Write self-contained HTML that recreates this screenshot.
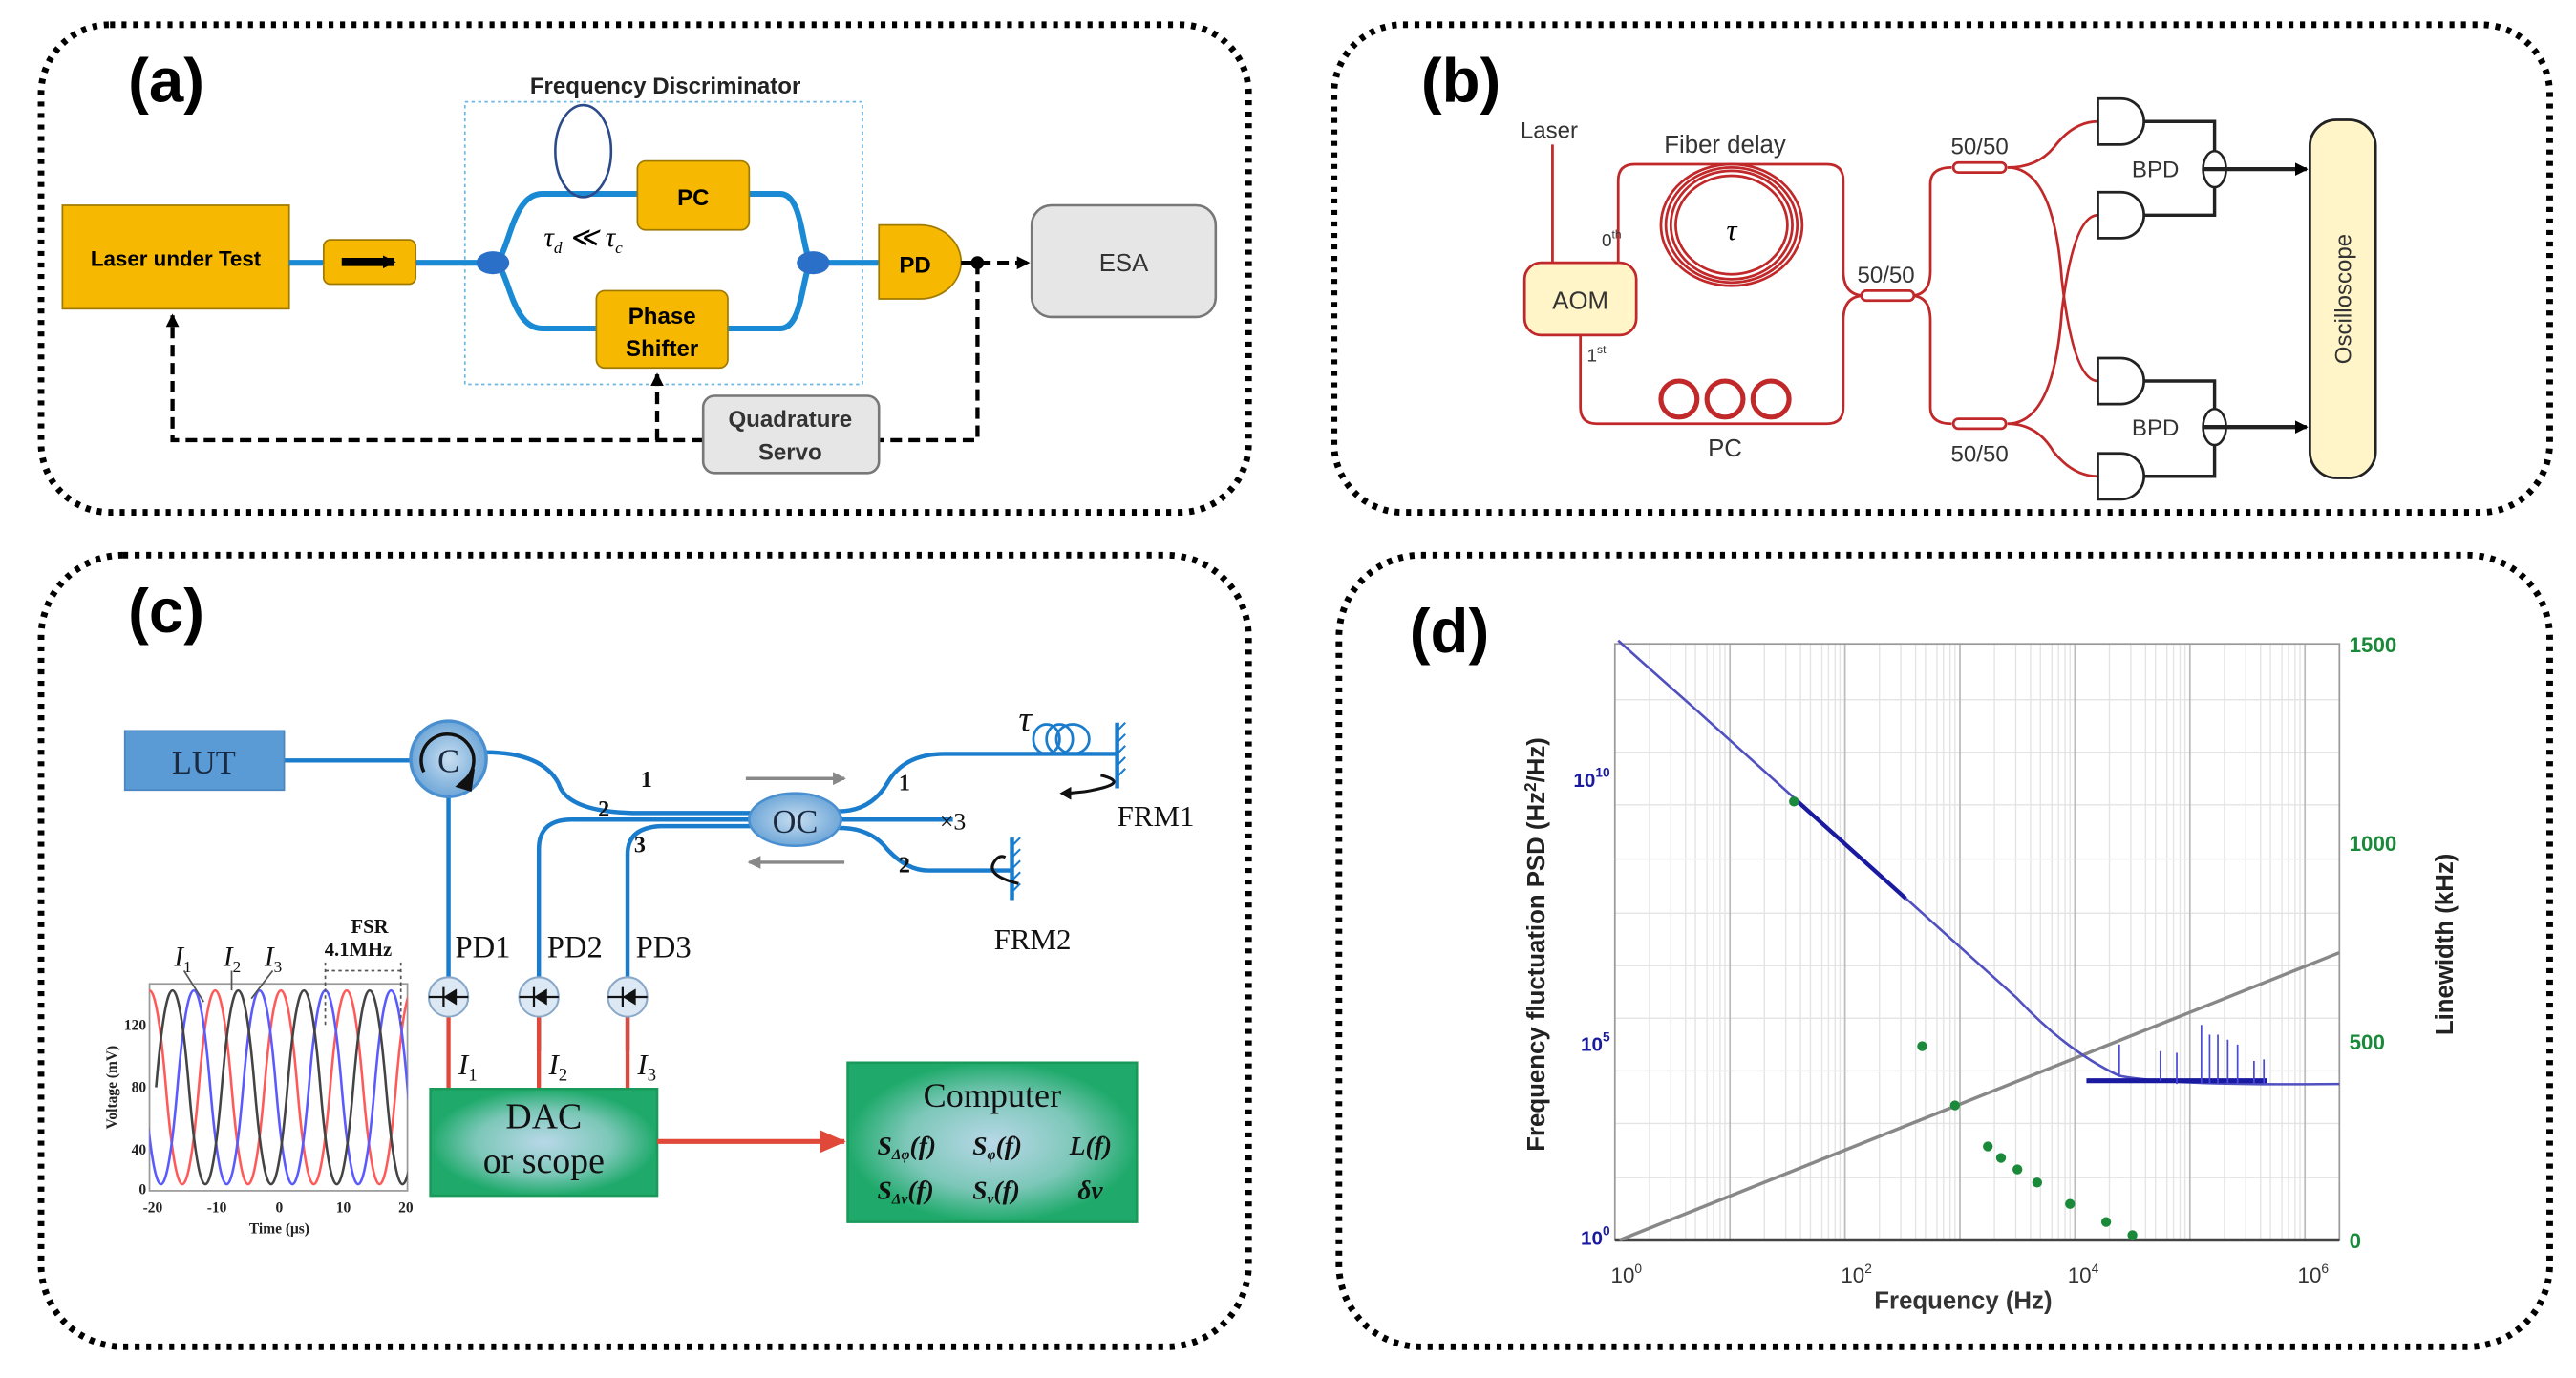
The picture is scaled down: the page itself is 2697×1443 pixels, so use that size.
<!DOCTYPE html>
<html><head><meta charset="utf-8"><style>
html,body{margin:0;padding:0;background:#fff}
svg{display:block}
text{font-family:"Liberation Sans",sans-serif}
.serif,.serif text,.serif tspan{font-family:"Liberation Serif",serif}
</style></head><body>
<svg width="2697" height="1443" viewBox="0 0 1568 839" preserveAspectRatio="none" xmlns="http://www.w3.org/2000/svg">
<defs>
<marker id="ab" markerWidth="8" markerHeight="8" refX="7" refY="4" orient="auto" markerUnits="userSpaceOnUse"><path d="M0,0 L8,4 L0,8 z" fill="#000"/></marker>
<marker id="ar" markerWidth="16" markerHeight="14" refX="15" refY="7" orient="auto" markerUnits="userSpaceOnUse"><path d="M0,0 L16,7 L0,14 z" fill="#e0483a"/></marker>
<marker id="ag" markerWidth="8" markerHeight="8" refX="7" refY="4" orient="auto" markerUnits="userSpaceOnUse"><path d="M0,0 L8,4 L0,8 z" fill="#888"/></marker>
<radialGradient id="gg"><stop offset="0" stop-color="#b8d8e8"/><stop offset="0.6" stop-color="#7cc7b8"/><stop offset="1" stop-color="#1faa6b"/></radialGradient>
<radialGradient id="bg"><stop offset="0" stop-color="#c8def0"/><stop offset="1" stop-color="#6fa7d8"/></radialGradient>
<clipPath id="ic"><rect x="91" y="599" width="157" height="126"/></clipPath>
</defs>
<g fill="none" stroke="#000" stroke-width="4" stroke-dasharray="3 4">
<rect x="25" y="15" width="735" height="297" rx="42"/>
<rect x="812" y="15" width="740" height="297" rx="42"/>
<rect x="25" y="338" width="735" height="482" rx="50"/>
<rect x="815" y="338" width="737" height="482" rx="50"/>
</g>

<!-- (a) -->
<text x="78" y="62" font-size="38" font-weight="bold">(a)</text>
<text x="405" y="57" font-size="14" font-weight="bold" text-anchor="middle" fill="#222">Frequency Discriminator</text>
<rect x="283" y="62" width="242" height="172" fill="none" stroke="#6fb6e0" stroke-width="1" stroke-dasharray="2 2"/>
<rect x="38" y="125" width="138" height="63" fill="#f6b800" stroke="#a07a00"/>
<text x="107" y="162" font-size="13" font-weight="bold" text-anchor="middle">Laser under Test</text>
<g stroke="#1a8ad4" stroke-width="3.5" fill="none">
<path d="M176 160 H197 M253 160 H300"/>
<path d="M300 160 C310 160 310 118 330 118 H475 C490 118 488 160 495 160"/>
<path d="M300 160 C310 160 310 200 330 200 H475 C490 200 488 160 495 160"/>
<path d="M495 160 H535"/>
</g>
<rect x="197" y="146" width="56" height="27" rx="4" fill="#f6b800" stroke="#a07a00"/>
<path d="M208 159.5 H240" stroke="#000" stroke-width="5" marker-end="url(#ab)"/>
<ellipse cx="300" cy="160" rx="10" ry="7" fill="#2a70c8"/>
<ellipse cx="495" cy="160" rx="10" ry="7" fill="#2a70c8"/>
<ellipse cx="355" cy="92" rx="17" ry="28" fill="none" stroke="#2a4a8a" stroke-width="1.5"/>
<text x="355" y="150" font-size="17" font-style="italic" text-anchor="middle" class="serif">τ<tspan font-size="10" dy="4">d</tspan><tspan dy="-4"> ≪ τ</tspan><tspan font-size="10" dy="4">c</tspan></text>
<rect x="388" y="98" width="68" height="42" rx="5" fill="#f6b800" stroke="#a07a00"/>
<text x="422" y="125" font-size="14" font-weight="bold" text-anchor="middle">PC</text>
<rect x="363" y="177" width="80" height="47" rx="5" fill="#f6b800" stroke="#a07a00"/>
<text x="403" y="197" font-size="14" font-weight="bold" text-anchor="middle">Phase</text>
<text x="403" y="217" font-size="14" font-weight="bold" text-anchor="middle">Shifter</text>
<path d="M535 137 H560 A25 22.5 0 0 1 560 182 H535 Z" fill="#f6b800" stroke="#a07a00"/>
<text x="557" y="166" font-size="14" font-weight="bold" text-anchor="middle">PD</text>
<rect x="628" y="125" width="112" height="68" rx="12" fill="#e6e6e6" stroke="#777" stroke-width="1.5"/>
<text x="684" y="165" font-size="15" text-anchor="middle" fill="#333">ESA</text>
<circle cx="595" cy="160" r="4" fill="#000"/>
<g stroke="#000" stroke-width="2.5" fill="none" stroke-dasharray="7 4">
<path d="M585 160 H626" marker-end="url(#ab)"/>
<path d="M595 160 V268 H535"/>
<path d="M428 268 H105 V192" marker-end="url(#ab)"/>
<path d="M400 268 V228" marker-end="url(#ab)"/>
</g>
<rect x="428" y="241" width="107" height="47" rx="7" fill="#e6e6e6" stroke="#777" stroke-width="1.5"/>
<text x="481" y="260" font-size="14" font-weight="bold" text-anchor="middle" fill="#333">Quadrature</text>
<text x="481" y="280" font-size="14" font-weight="bold" text-anchor="middle" fill="#333">Servo</text>

<!-- (b) -->
<text x="865" y="62" font-size="38" font-weight="bold">(b)</text>
<g stroke="#c0282a" stroke-width="1.6" fill="none">
<path d="M945 88 V163"/>
<path d="M985 160 V110 Q985 100 995 100 H1112 Q1122 100 1122 110 V165 Q1122 180 1135 180"/>
<path d="M962 204 V248 Q962 258 972 258 H1112 Q1122 258 1122 248 V195 Q1122 180 1135 180"/>
<ellipse cx="1054" cy="137" rx="34" ry="30"/><ellipse cx="1054" cy="137" rx="37" ry="33"/><ellipse cx="1054" cy="137" rx="40" ry="35"/><ellipse cx="1054" cy="137" rx="43" ry="37"/>
<path d="M1163 180 Q1175 180 1175 165 V112 Q1175 102 1188 102"/>
<path d="M1163 180 Q1175 180 1175 195 V248 Q1175 258 1188 258"/>
<path d="M1222 102 Q1240 102 1250 90 Q1262 74 1277 74"/>
<path d="M1222 102 Q1250 102 1255 170 Q1262 232 1277 232"/>
<path d="M1222 258 Q1250 258 1255 190 Q1262 131 1277 131"/>
<path d="M1222 258 Q1240 258 1250 275 Q1262 290 1277 290"/>
</g>
<g stroke="#c0282a" stroke-width="3" fill="none">
<circle cx="1022" cy="243" r="11"/><circle cx="1050" cy="243" r="11"/><circle cx="1078" cy="243" r="11"/>
</g>
<rect x="1133" y="177" width="32" height="6" rx="3" fill="#fff" stroke="#c0282a" stroke-width="1.6"/>
<rect x="1189" y="99" width="32" height="6" rx="3" fill="#fff" stroke="#c0282a" stroke-width="1.6"/>
<rect x="1189" y="255" width="32" height="6" rx="3" fill="#fff" stroke="#c0282a" stroke-width="1.6"/>
<rect x="928" y="160" width="68" height="44" rx="10" fill="#fff5c8" stroke="#c0282a" stroke-width="1.6"/>
<text x="962" y="188" font-size="15" text-anchor="middle" fill="#333">AOM</text>
<text x="943" y="84" font-size="14" text-anchor="middle" fill="#333">Laser</text>
<text x="1050" y="93" font-size="15" text-anchor="middle" fill="#333">Fiber delay</text>
<text x="1054" y="146" font-size="18" font-style="italic" text-anchor="middle" class="serif">τ</text>
<text x="975" y="150" font-size="11" fill="#333">0<tspan font-size="7" dy="-5">th</tspan></text>
<text x="966" y="220" font-size="11" fill="#333">1<tspan font-size="7" dy="-5">st</tspan></text>
<text x="1050" y="278" font-size="15" text-anchor="middle" fill="#333">PC</text>
<text x="1148" y="172" font-size="14" text-anchor="middle" fill="#333">50/50</text>
<text x="1205" y="94" font-size="14" text-anchor="middle" fill="#333">50/50</text>
<text x="1205" y="281" font-size="14" text-anchor="middle" fill="#333">50/50</text>
<g fill="#fff" stroke="#222" stroke-width="1.6">
<path d="M1277 60 H1291 A14 14 0 0 1 1291 88 H1277 Z"/>
<path d="M1277 117 H1291 A14 14 0 0 1 1291 145 H1277 Z"/>
<path d="M1277 218 H1291 A14 14 0 0 1 1291 246 H1277 Z"/>
<path d="M1277 276 H1291 A14 14 0 0 1 1291 304 H1277 Z"/>
</g>
<g fill="none" stroke="#222" stroke-width="2">
<path d="M1305 74 H1348 V131 H1305"/>
<path d="M1305 232 H1348 V290 H1305"/>
</g>
<ellipse cx="1348" cy="103" rx="7" ry="11" fill="#fff" stroke="#222" stroke-width="1.5"/>
<ellipse cx="1348" cy="260" rx="7" ry="11" fill="#fff" stroke="#222" stroke-width="1.5"/>
<path d="M1341 103 H1404" stroke="#222" stroke-width="2.5" marker-end="url(#ab)"/>
<path d="M1341 260 H1404" stroke="#222" stroke-width="2.5" marker-end="url(#ab)"/>
<text x="1312" y="108" font-size="14" text-anchor="middle" fill="#333">BPD</text>
<text x="1312" y="265" font-size="14" text-anchor="middle" fill="#333">BPD</text>
<rect x="1406" y="73" width="40" height="218" rx="16" fill="#fff5c8" stroke="#222" stroke-width="1.6"/>
<text transform="translate(1431,182) rotate(-90)" font-size="14" text-anchor="middle" fill="#333">Oscilloscope</text>

<!-- (c) -->
<text x="78" y="385" font-size="38" font-weight="bold">(c)</text>
<g stroke="#1a7ccc" stroke-width="2.6" fill="none">
<path d="M173 463 H251"/>
<path d="M295 458 Q330 458 340 477 Q345 494 385 495 H458"/>
<path d="M328 640 V517 Q328 499 348 499 H458"/>
<path d="M382 640 V520 Q382 504 402 503 H458"/>
<path d="M273 484 V595"/>
<path d="M510 494 Q530 494 540 477 Q550 459 575 459 H680"/>
<path d="M511 499 H580"/>
<path d="M510 504 Q530 504 540 517 Q552 530 565 530 H616"/>
<path d="M680 440 V480 M616 510 V548"/>
</g>
<g stroke="#1a7ccc" stroke-width="1.2">
<path d="M680 445 l5 -5 M680 452 l5 -5 M680 459 l5 -5 M680 466 l5 -5 M680 473 l5 -5"/>
<path d="M616 515 l5 -5 M616 522 l5 -5 M616 529 l5 -5 M616 536 l5 -5 M616 543 l5 -5"/>
</g>
<g stroke="#1a7ccc" stroke-width="1.6" fill="none">
<ellipse cx="637" cy="450" rx="8" ry="9"/><ellipse cx="645" cy="450" rx="8" ry="9"/><ellipse cx="653" cy="450" rx="10" ry="9"/>
</g>
<rect x="76" y="445" width="97" height="36" fill="#5b9bd5" stroke="#4a86c0"/>
<text x="124" y="471" font-size="20" text-anchor="middle" class="serif" fill="#1a2a40">LUT</text>
<circle cx="273" cy="462" r="23" fill="url(#bg)" stroke="#4a90d0" stroke-width="2"/>
<path d="M258 470 A16 16 0 1 1 284 474" fill="none" stroke="#111" stroke-width="2"/>
<path d="M277 479 L289 468 L287 482 Z" fill="#111"/>
<text x="273" y="470" font-size="20" text-anchor="middle" class="serif" fill="#1a2a40">C</text>
<ellipse cx="484" cy="499" rx="28" ry="16" fill="url(#bg)" stroke="#4a90d0" stroke-width="1.5"/>
<text x="484" y="507" font-size="20" text-anchor="middle" class="serif" fill="#1a2a40">OC</text>
<path d="M454 474 H514" stroke="#888" stroke-width="2" marker-end="url(#ag)"/>
<path d="M514 525 H456" stroke="#888" stroke-width="2" marker-end="url(#ag)"/>
<g font-size="14" font-weight="bold" class="serif" fill="#111">
<text x="390" y="479">1</text><text x="364" y="497">2</text><text x="386" y="519">3</text>
<text x="547" y="481">1</text><text x="547" y="531">2</text>
</g>
<text x="572" y="505" font-size="15" class="serif" fill="#111">×3</text>
<text x="620" y="445" font-size="22" font-style="italic" class="serif" fill="#111">τ</text>
<path d="M670 472 Q690 477 660 482 L650 483" fill="none" stroke="#111" stroke-width="1.8"/>
<path d="M645 483 l7 -4 v8 z" fill="#111"/>
<path d="M620 538 Q600 533 605 525 Q608 520 612 522" fill="none" stroke="#111" stroke-width="1.8"/>
<text x="680" y="503" font-size="18" class="serif" fill="#111">FRM1</text>
<text x="605" y="578" font-size="18" class="serif" fill="#111">FRM2</text>
<g font-size="19" class="serif" fill="#111">
<text x="277" y="583">PD1</text><text x="333" y="583">PD2</text><text x="387" y="583">PD3</text>
</g>
<g stroke="#e0483a" stroke-width="2.5"><path d="M273 617 V664 M328 617 V664 M382 617 V664"/></g>
<g fill="#dce8f4" stroke="#8aa8c8" stroke-width="1.2">
<circle cx="273" cy="607" r="12"/><circle cx="328" cy="607" r="12"/><circle cx="382" cy="607" r="12"/>
</g>
<g stroke="#111" stroke-width="1.3">
<path d="M261 607 H285 M316 607 H340 M370 607 H394 M270 601 V613 M325 601 V613 M379 601 V613"/>
</g>
<g fill="#111"><path d="M270 607 L278 602 L278 612 Z"/><path d="M325 607 L333 602 L333 612 Z"/><path d="M379 607 L387 602 L387 612 Z"/></g>
<g font-size="18" font-style="italic" class="serif" fill="#111">
<text x="279" y="654">I<tspan font-size="11" dy="4" font-style="normal">1</tspan></text>
<text x="334" y="654">I<tspan font-size="11" dy="4" font-style="normal">2</tspan></text>
<text x="388" y="654">I<tspan font-size="11" dy="4" font-style="normal">3</tspan></text>
</g>
<rect x="262" y="663" width="138" height="65" fill="url(#gg)" stroke="#1a9a5a" stroke-width="1.5"/>
<text x="331" y="687" font-size="22" text-anchor="middle" class="serif" fill="#111">DAC</text>
<text x="331" y="714" font-size="22" text-anchor="middle" class="serif" fill="#111">or scope</text>
<path d="M400 695 H514" stroke="#e0483a" stroke-width="3" marker-end="url(#ar)"/>
<rect x="516" y="647" width="176" height="97" fill="url(#gg)" stroke="#1a9a5a" stroke-width="1.5"/>
<text x="604" y="674" font-size="21" text-anchor="middle" class="serif" fill="#111">Computer</text>
<g font-size="16" font-style="italic" font-weight="bold" class="serif" fill="#111">
<text x="534" y="703">S<tspan font-size="9" dy="3">Δφ</tspan><tspan dy="-3">(f)</tspan></text>
<text x="592" y="703">S<tspan font-size="9" dy="3">φ</tspan><tspan dy="-3">(f)</tspan></text>
<text x="651" y="703">L(f)</text>
<text x="534" y="730">S<tspan font-size="9" dy="3">Δν</tspan><tspan dy="-3">(f)</tspan></text>
<text x="592" y="730">S<tspan font-size="9" dy="3">ν</tspan><tspan dy="-3">(f)</tspan></text>
<text x="656" y="730">δν</text>
</g>
<!-- inset chart -->
<rect x="91" y="599" width="157" height="126" fill="#fff" stroke="#999" stroke-width="1"/>
<g clip-path="url(#ic)" fill="none" stroke-width="1.5">
<path d="M81 662 q10 -118 20 0 t20 0 t20 0 t20 0 t20 0 t20 0 t20 0 t20 0 t20 0 t20 0" stroke="#ff5a5a"/>
<path d="M68 662 q10 -118 20 0 t20 0 t20 0 t20 0 t20 0 t20 0 t20 0 t20 0 t20 0 t20 0" stroke="#5a5aff"/>
<path d="M55 662 q10 -118 20 0 t20 0 t20 0 t20 0 t20 0 t20 0 t20 0 t20 0 t20 0 t20 0" stroke="#444" transform="translate(40,0)"/>
</g>
<g font-size="9" font-weight="bold" class="serif" fill="#222" text-anchor="end">
<text x="89" y="627">120</text><text x="89" y="665">80</text><text x="89" y="703">40</text><text x="89" y="727">0</text>
</g>
<g font-size="9" font-weight="bold" class="serif" fill="#222" text-anchor="middle">
<text x="93" y="738">-20</text><text x="132" y="738">-10</text><text x="170" y="738">0</text><text x="209" y="738">10</text><text x="247" y="738">20</text>
<text x="170" y="751">Time (μs)</text>
</g>
<text transform="translate(71,662) rotate(-90)" font-size="9" font-weight="bold" class="serif" text-anchor="middle" fill="#222">Voltage (mV)</text>
<g font-size="17" font-style="italic" class="serif" fill="#111">
<text x="106" y="588">I<tspan font-size="10" dy="4" font-style="normal">1</tspan></text>
<text x="136" y="588">I<tspan font-size="10" dy="4" font-style="normal">2</tspan></text>
<text x="161" y="588">I<tspan font-size="10" dy="4" font-style="normal">3</tspan></text>
</g>
<g stroke="#555" stroke-width="1" fill="none"><path d="M112 591 L124 610 M141 591 L141 603 M166 591 L153 608"/></g>
<text x="225" y="568" font-size="12" font-weight="bold" class="serif" text-anchor="middle" fill="#111">FSR</text>
<text x="218" y="582" font-size="12" font-weight="bold" class="serif" text-anchor="middle" fill="#111">4.1MHz</text>
<path d="M198 591 H244 M198 586 V625 M244 586 V625" stroke="#555" stroke-width="1" stroke-dasharray="2 2" fill="none"/>

<!-- (d) -->
<text x="858" y="397" font-size="38" font-weight="bold">(d)</text>
<rect x="983" y="392" width="441" height="363" fill="#fff"/>
<g stroke="#e4e4e4" stroke-width="0.8">
<path d="M1004 392V755 M1017 392V755 M1026 392V755 M1032 392V755 M1039 392V755 M1043 392V755 M1047 392V755 M1050 392V755 M1053 392V755 M1074 392V755 M1087 392V755 M1096 392V755 M1102 392V755 M1109 392V755 M1113 392V755 M1117 392V755 M1120 392V755 M1123 392V755 M1144 392V755 M1157 392V755 M1166 392V755 M1172 392V755 M1179 392V755 M1183 392V755 M1187 392V755 M1190 392V755 M1193 392V755 M1214 392V755 M1227 392V755 M1236 392V755 M1242 392V755 M1249 392V755 M1253 392V755 M1257 392V755 M1260 392V755 M1263 392V755 M1284 392V755 M1297 392V755 M1306 392V755 M1312 392V755 M1319 392V755 M1323 392V755 M1327 392V755 M1330 392V755 M1333 392V755 M1354 392V755 M1367 392V755 M1376 392V755 M1382 392V755 M1389 392V755 M1393 392V755 M1397 392V755 M1400 392V755 M1403 392V755"/>
<path d="M983 426H1424 M983 458H1424 M983 490H1424 M983 523H1424 M983 556H1424 M983 588H1424 M983 620H1424 M983 652H1424 M983 684H1424 M983 717H1424"/>
</g>
<g stroke="#bbb" stroke-width="1"><path d="M1053 392V755 M1123 392V755 M1193 392V755 M1263 392V755 M1333 392V755 M1403 392V755"/></g>
<rect x="983" y="392" width="441" height="363" fill="none" stroke="#999" stroke-width="1"/>
<path d="M983 755 H1424" stroke="#444" stroke-width="2"/>
<path d="M986 755 L1424 580" stroke="#888" stroke-width="2"/>
<path d="M985 390 Q1005 408 1030 430 L1228 608 Q1258 640 1290 655 Q1320 661 1424 660" fill="none" stroke="#5050c0" stroke-width="1.5"/>
<path d="M1092 486 L1160 547" stroke="#1a1aa0" stroke-width="2.5"/>
<path d="M1270 658 H1380" stroke="#1a1aa0" stroke-width="3"/>
<g stroke="#4a4ad8" stroke-width="1"><path d="M1290 655V636 M1315 658V640 M1325 660V641 M1340 660V624 M1345 660V630 M1350 660V630 M1356 660V633 M1362 660V636 M1372 660V646 M1378 660V645"/></g>
<g fill="#1a8a3a">
<circle cx="1092" cy="488" r="3"/><circle cx="1170" cy="637" r="3"/><circle cx="1190" cy="673" r="3"/><circle cx="1210" cy="698" r="3"/><circle cx="1218" cy="705" r="3"/><circle cx="1228" cy="712" r="3"/><circle cx="1240" cy="720" r="3"/><circle cx="1260" cy="733" r="3"/><circle cx="1282" cy="744" r="3"/><circle cx="1298" cy="752" r="3"/>
</g>
<g font-size="12" fill="#1a1aa0" text-anchor="end" font-weight="bold">
<text x="980" y="479">10<tspan font-size="8" dy="-6">10</tspan></text>
<text x="980" y="640">10<tspan font-size="8" dy="-6">5</tspan></text>
<text x="980" y="758">10<tspan font-size="8" dy="-6">0</tspan></text>
</g>
<g font-size="13" fill="#1a8a3a" font-weight="bold">
<text x="1430" y="397">1500</text><text x="1430" y="518">1000</text><text x="1430" y="639">500</text><text x="1430" y="760">0</text>
</g>
<g font-size="13" fill="#333" text-anchor="middle">
<text x="990" y="781">10<tspan font-size="8" dy="-6">0</tspan></text>
<text x="1130" y="781">10<tspan font-size="8" dy="-6">2</tspan></text>
<text x="1268" y="781">10<tspan font-size="8" dy="-6">4</tspan></text>
<text x="1408" y="781">10<tspan font-size="8" dy="-6">6</tspan></text>
</g>
<text x="1195" y="797" font-size="15" font-weight="bold" text-anchor="middle" fill="#333">Frequency (Hz)</text>
<text transform="translate(940,575) rotate(-90)" font-size="15" font-weight="bold" text-anchor="middle" fill="#222">Frequency fluctuation PSD (Hz<tspan font-size="10" dy="-5">2</tspan><tspan dy="5">/Hz)</tspan></text>
<text transform="translate(1493,575) rotate(-90)" font-size="15" font-weight="bold" text-anchor="middle" fill="#222">Linewidth (kHz)</text>
</svg>
</body></html>
